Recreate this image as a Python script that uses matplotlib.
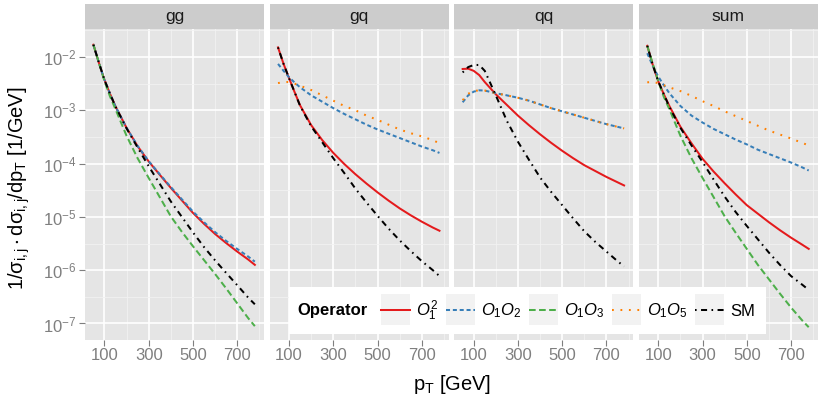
import numpy as np
import matplotlib
matplotlib.use("Agg")
import matplotlib.pyplot as plt
from matplotlib.patches import Rectangle
from matplotlib.lines import Line2D
from matplotlib.legend_handler import HandlerLine2D
from matplotlib.ticker import FixedLocator, NullFormatter

plt.rcParams['font.family'] = ['Liberation Sans', 'DejaVu Sans']
plt.rcParams['mathtext.fontset'] = 'custom'
plt.rcParams['mathtext.rm'] = 'Liberation Sans'
plt.rcParams['mathtext.it'] = 'Liberation Sans:italic'
plt.rcParams['mathtext.bf'] = 'Liberation Sans:bold'

# pT grid (GeV) and log10(1/sigma dsigma/dpT)
pt = [50, 75, 100, 125, 150, 200, 250, 300, 350, 400, 450, 500, 550, 600, 650, 700, 750, 780]

gg_O1sq = [-1.77, -2.11, -2.43, -2.69, -2.93, -3.33, -3.675, -3.96, -4.21, -4.455, -4.69, -4.925, -5.13, -5.32, -5.49, -5.65, -5.80, -5.90]
gg_O1O2 = [-1.77, -2.11, -2.43, -2.69, -2.93, -3.33, -3.67, -3.955, -4.20, -4.44, -4.67, -4.90, -5.10, -5.285, -5.45, -5.60, -5.745, -5.84]
gg_O1O3 = [-1.77, -2.11, -2.45, -2.74, -2.98, -3.48, -3.90, -4.27, -4.63, -4.99, -5.28, -5.55, -5.81, -6.07, -6.34, -6.62, -6.90, -7.05]
gg_SM = [-1.77, -2.11, -2.43, -2.69, -2.93, -3.34, -3.70, -4.05, -4.38, -4.71, -5.00, -5.29, -5.565, -5.815, -6.05, -6.28, -6.515, -6.64]

gq_O1sq = [-1.82, -2.13, -2.40, -2.66, -2.91, -3.28, -3.56, -3.80, -4.01, -4.20, -4.375, -4.54, -4.695, -4.84, -4.97, -5.09, -5.20, -5.26]
gq_O1O2 = [-2.13, -2.26, -2.38, -2.48, -2.57, -2.72, -2.84, -2.96, -3.07, -3.17, -3.27, -3.36, -3.44, -3.52, -3.60, -3.68, -3.75, -3.80]
gq_O1O5 = [-2.49, -2.47, -2.47, -2.50, -2.54, -2.62, -2.72, -2.82, -2.92, -3.00, -3.10, -3.18, -3.27, -3.36, -3.43, -3.49, -3.56, -3.62]
gq_SM = [-1.82, -2.13, -2.40, -2.66, -2.92, -3.30, -3.60, -3.90, -4.18, -4.47, -4.73, -4.98, -5.22, -5.44, -5.64, -5.83, -6.00, -6.11]

qq_O1sq = [-2.225, -2.22, -2.26, -2.34, -2.47, -2.70, -2.90, -3.10, -3.28, -3.45, -3.61, -3.76, -3.90, -4.03, -4.14, -4.25, -4.35, -4.41]
qq_O1O2 = [-2.85, -2.72, -2.65, -2.625, -2.63, -2.68, -2.72, -2.765, -2.82, -2.89, -2.96, -3.02, -3.08, -3.14, -3.20, -3.26, -3.31, -3.34]
qq_O1O5 = [-2.81, -2.69, -2.64, -2.625, -2.63, -2.68, -2.72, -2.765, -2.82, -2.89, -2.96, -3.02, -3.08, -3.14, -3.20, -3.26, -3.31, -3.34]
qq_SM = [-2.29, -2.19, -2.15, -2.15, -2.26, -2.72, -3.20, -3.59, -3.93, -4.26, -4.53, -4.78, -5.03, -5.27, -5.47, -5.65, -5.83, -5.93]

sum_O1sq = [-1.79, -2.15, -2.46, -2.70, -2.92, -3.31, -3.62, -3.91, -4.15, -4.37, -4.58, -4.78, -4.94, -5.10, -5.25, -5.39, -5.52, -5.60]
sum_O1O2 = [-1.93, -2.17, -2.37, -2.53, -2.68, -2.92, -3.10, -3.23, -3.35, -3.45, -3.55, -3.64, -3.74, -3.82, -3.90, -3.98, -4.07, -4.13]
sum_O1O3 = [-1.79, -2.13, -2.46, -2.75, -2.98, -3.48, -3.90, -4.27, -4.63, -4.99, -5.30, -5.60, -5.90, -6.17, -6.44, -6.70, -6.94, -7.07]
sum_O1O5 = [-2.475, -2.47, -2.49, -2.53, -2.57, -2.64, -2.73, -2.83, -2.92, -3.02, -3.11, -3.20, -3.29, -3.38, -3.455, -3.53, -3.61, -3.66]
sum_SM = [-1.79, -2.15, -2.46, -2.70, -2.94, -3.33, -3.66, -3.97, -4.30, -4.62, -4.91, -5.17, -5.42, -5.67, -5.90, -6.11, -6.27, -6.37]

channels = ['gg', 'gq', 'qq', 'sum']
operators = ['O1sq', 'O1O2', 'O1O3', 'O1O5', 'SM']
op_labels = [r'$O_1^2$', r'$O_1O_2$', r'$O_1O_3$', r'$O_1O_5$', 'SM']
panels = {
    'gg': {'O1sq': gg_O1sq, 'O1O2': gg_O1O2, 'O1O3': gg_O1O3, 'SM': gg_SM},
    'gq': {'O1sq': gq_O1sq, 'O1O2': gq_O1O2, 'O1O5': gq_O1O5, 'SM': gq_SM},
    'qq': {'O1sq': qq_O1sq, 'O1O2': qq_O1O2, 'O1O5': qq_O1O5, 'SM': qq_SM},
    'sum': {'O1sq': sum_O1sq, 'O1O2': sum_O1O2, 'O1O3': sum_O1O3, 'O1O5': sum_O1O5, 'SM': sum_SM},
}

styles = {
    'O1sq': dict(color='#E41A1C', linestyle='-'),
    'O1O2': dict(color='#377EB8', linestyle=(0, (2.0, 1.4))),
    'O1O3': dict(color='#4DAF4A', linestyle=(0, (3.3, 1.7))),
    'O1O5': dict(color='#FF7F00', linestyle=(0, (0.9, 3.3))),
    'SM': dict(color='black', linestyle=(0, (0.8, 2.2, 3.0, 2.2))),
}
LW = 1.45
GREY50 = '#7F7F7F'

W, H = 820, 395
fig = plt.figure(figsize=(W / 100, H / 100), dpi=100)

left0, right0 = 85, 818
top_px, bot_px = 29, 340
gap = 5.5
pw = (right0 - left0 - 3 * gap) / 4

axes = []
for i, ch in enumerate(channels):
    x0 = left0 + i * (pw + gap)
    ax = fig.add_axes([x0 / W, (H - bot_px) / H, pw / W, (bot_px - top_px) / H])
    axes.append(ax)
    ax.set_facecolor('#E5E5E5')
    for s in ax.spines.values():
        s.set_visible(False)
    ax.set_yscale('log')
    ax.set_xlim(12, 822)
    ax.set_ylim(10 ** -7.31, 10 ** -1.475)

    ax.xaxis.set_major_locator(FixedLocator([100, 300, 500, 700]))
    ax.xaxis.set_minor_locator(FixedLocator([200, 400, 600, 800]))
    ax.yaxis.set_major_locator(FixedLocator([10.0 ** k for k in range(-7, -1)]))
    ax.yaxis.set_minor_locator(FixedLocator([10.0 ** (k + 0.5) for k in range(-8, -1)]))
    ax.yaxis.set_minor_formatter(NullFormatter())
    ax.grid(which='major', color='white', lw=1.2)
    ax.grid(which='minor', color='#F2F2F2', lw=0.6)
    ax.set_axisbelow(True)
    ax.tick_params(which='minor', length=0)
    ax.tick_params(which='major', length=4, width=0.8, color=GREY50,
                   labelcolor=GREY50, labelsize=12, pad=2)
    if i > 0:
        ax.tick_params(axis='y', which='both', left=False, labelleft=False)

    for op in operators:
        if op in panels[ch]:
            ax.plot(pt, 10 ** np.array(panels[ch][op]), lw=LW, **styles[op])

    sh = 25 / (bot_px - top_px)
    ax.add_patch(Rectangle((0, 1), 1, sh, transform=ax.transAxes, facecolor='#CCCCCC',
                           edgecolor='none', clip_on=False))
    ax.text(0.5, 1 + sh / 2, ch, transform=ax.transAxes, ha='center', va='center',
            fontsize=12.5, color='#1A1A1A')

fig.text(452 / W, 1 - 384 / H, r'$\mathregular{p_T}$ [GeV]', ha='center', va='center', fontsize=14.5)
fig.text(19 / W, 1 - 188 / H,
         r'$\mathregular{1/\sigma_{i,j}\cdot d\sigma_{i,j}/dp_T}$ [1/GeV]',
         ha='center', va='center', rotation=90, fontsize=14.5)

# legend box
lx0, lx1, ly0, ly1 = 289, 766, 287, 334
fig.add_artist(Rectangle((lx0 / W, 1 - ly1 / H), (lx1 - lx0) / W, (ly1 - ly0) / H,
                         transform=fig.transFigure, facecolor='white', edgecolor='none', zorder=3))
ymid = 1 - (ly0 + ly1) / 2 / H
fig.text(297 / W, ymid, 'Operator', fontweight='bold', fontsize=12, ha='left', va='center', zorder=4)


class KeyBox(HandlerLine2D):
    def create_artists(self, legend, orig_handle, xdescent, ydescent, width, height, fontsize, trans):
        box = Rectangle((-xdescent, -ydescent + height / 2 - 11), width, 22,
                        facecolor='#F2F2F2', edgecolor='none', transform=trans)
        return [box] + super().create_artists(legend, orig_handle, xdescent, ydescent,
                                              width, height, fontsize, trans)


handles = [Line2D([], [], lw=LW, **styles[op]) for op in operators]
leg = fig.legend(handles, op_labels, loc='center left', bbox_to_anchor=(381 / W, ymid),
                 ncol=5, frameon=False, fontsize=12, handlelength=1.75, handletextpad=0.35,
                 columnspacing=0.45, borderpad=0, borderaxespad=0,
                 handler_map={Line2D: KeyBox()})
leg.set_zorder(5)

fig.savefig('out.png', dpi=100)
